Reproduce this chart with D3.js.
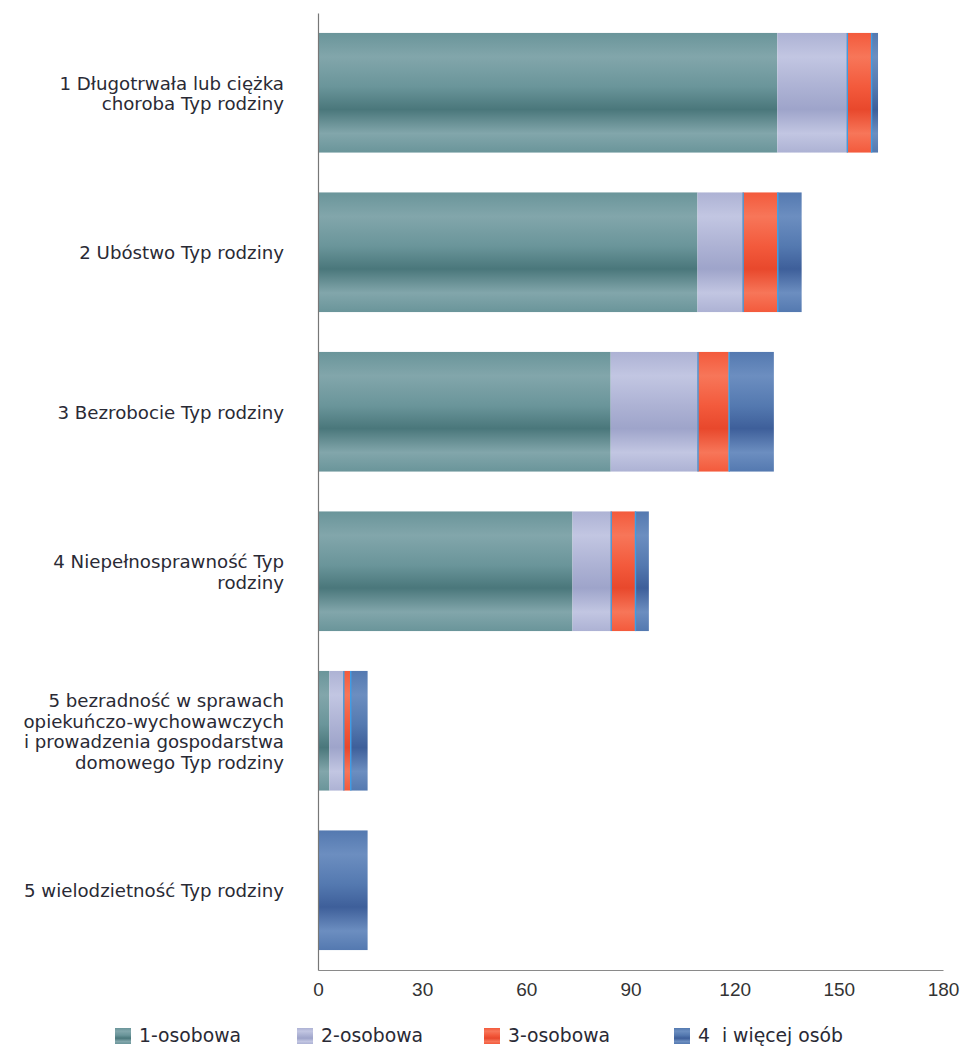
<!DOCTYPE html>
<html>
<head>
<meta charset="utf-8">
<script src="https://cdn.jsdelivr.net/npm/d3@7"></script>
<style>
  html, body { margin: 0; padding: 0; background: #ffffff; }
  svg { display: block; }
</style>
</head>
<body>
<svg id="chart" width="964" height="1046"></svg>
<script>
// ---------- data ----------
const categories = [
  "1 Długotrwała lub ciężka choroba Typ rodziny",
  "2 Ubóstwo Typ rodziny",
  "3 Bezrobocie Typ rodziny",
  "4 Niepełnosprawność Typ rodziny",
  "5 bezradność w sprawach opiekuńczo-wychowawczych i prowadzenia gospodarstwa domowego Typ rodziny",
  "5 wielodzietność Typ rodziny"
];
const labelLines = [
  ["1 Długotrwała lub ciężka", "choroba Typ rodziny"],
  ["2 Ubóstwo Typ rodziny"],
  ["3 Bezrobocie Typ rodziny"],
  ["4 Niepełnosprawność Typ", "rodziny"],
  ["5 bezradność w sprawach", "opiekuńczo-wychowawczych", "i prowadzenia gospodarstwa", "domowego Typ rodziny"],
  ["5 wielodzietność Typ rodziny"]
];
const seriesNames = ["1-osobowa", "2-osobowa", "3-osobowa", "4  i więcej osób"];
const osoba1 = [132, 109, 84, 73, 3, 0];
const osoba2 = [20, 13, 25, 11, 4, 0];
const osoba3 = [7, 10, 9, 7, 2, 0];
const osoba4 = [2, 7, 13, 4, 5, 14];
const xTicks = [0, 30, 60, 90, 120, 150, 180];

// ---------- build table ----------
const seriesValues = [osoba1, osoba2, osoba3, osoba4];
const table = categories.map((c, i) => {
  const row = { category: c };
  seriesNames.forEach((s, j) => row[s] = seriesValues[j][i]);
  return row;
});

const svg = d3.select("#chart");

// gradients (light / mid / dark tones per series)
const tones = [
  { light: "#82a6ab", mid: "#6a959a", dark: "#4a777b" },
  { light: "#c2c6e2", mid: "#adb2d4", dark: "#9ea4ca" },
  { light: "#f77659", mid: "#f35a3c", dark: "#e8482c" },
  { light: "#6c8ec0", mid: "#5479b0", dark: "#3e5f9a" }
];
const defs = svg.append("defs");
tones.forEach((t, i) => {
  const g = defs.append("linearGradient").attr("id", "g" + i)
    .attr("x1", 0).attr("y1", 0).attr("x2", 0).attr("y2", 1);
  [[0, t.mid], [0.2, t.light], [0.45, t.mid], [0.64, t.dark], [0.84, t.light], [1, t.mid]]
    .forEach(([o, c]) => g.append("stop").attr("offset", o).attr("stop-color", c));
});

const x = d3.scaleLinear().domain([0, 180]).range([318, 943]);
const y = d3.scaleBand().domain(categories).range([13, 970])
  .paddingInner(0.25).paddingOuter(0.125);

const stack = d3.stack().keys(seriesNames);
const stacked = stack(table);

// bars
const layers = svg.append("g").selectAll("g").data(stacked).join("g")
  .attr("fill", (d, i) => `url(#g${i})`);
layers.selectAll("rect").data(d => d.filter(p => p[1] - p[0] > 0)).join("rect")
  .attr("x", d => x(d[0]) + 1)
  .attr("y", d => y(d.data.category))
  .attr("width", d => x(d[1]) - x(d[0]))
  .attr("height", y.bandwidth());

// thin separator lines at left edge of 3rd and 4th series segments
stacked.forEach((layer, i) => {
  if (i < 2) return;
  svg.append("g").selectAll("line").data(layer.filter(p => p[1] - p[0] > 0 && p[0] > 0)).join("line")
    .attr("x1", d => x(d[0]) + 1.5).attr("x2", d => x(d[0]) + 1.5)
    .attr("y1", d => y(d.data.category))
    .attr("y2", d => y(d.data.category) + y.bandwidth())
    .attr("stroke", "#3d9de6").attr("stroke-width", 1.4);
});

// axes
const xAxis = svg.append("g").attr("transform", "translate(0,970)")
  .call(d3.axisBottom(x).tickValues(xTicks).tickSize(0).tickPadding(13).tickFormat(d3.format("d")));
xAxis.select(".domain").attr("stroke", "#8a8a8a").attr("stroke-width", 1);
xAxis.selectAll("text").attr("font-family", "'Liberation Sans', Arial, sans-serif")
  .attr("font-size", 19).attr("fill", "#333");

const yAxis = svg.append("g").attr("transform", "translate(318,0)")
  .call(d3.axisLeft(y).tickSize(0).tickFormat(""));
yAxis.select(".domain").attr("stroke", "#777").attr("stroke-width", 1.2);

// category labels
const lh = 20.5;
const lab = svg.append("g").attr("font-family", "'DejaVu Sans', sans-serif")
  .attr("font-size", 18.2).attr("fill", "#2a2a35").attr("text-anchor", "end");
categories.forEach((c, i) => {
  const lines = labelLines[i];
  const cy = y(c) + y.bandwidth() / 2;
  const first = cy - (lines.length - 1) * lh / 2 + 7;
  const t = lab.append("text");
  lines.forEach((ln, k) => {
    t.append("tspan").attr("x", 284).attr("y", first + k * lh).text(ln);
  });
});

// legend
const legendX = [115, 297, 484, 674];
const leg = svg.append("g");
seriesNames.forEach((s, i) => {
  const g = leg.append("g").attr("transform", `translate(${legendX[i]},1028)`);
  g.append("rect").attr("width", 16).attr("height", 16).attr("fill", `url(#g${i})`);
  g.append("text").attr("x", 24).attr("y", 14)
    .attr("font-family", "'DejaVu Sans', sans-serif").attr("font-size", 18.8)
    .attr("fill", "#2a2a35").style("white-space", "pre").text(s);
});
</script>
</body>
</html>
